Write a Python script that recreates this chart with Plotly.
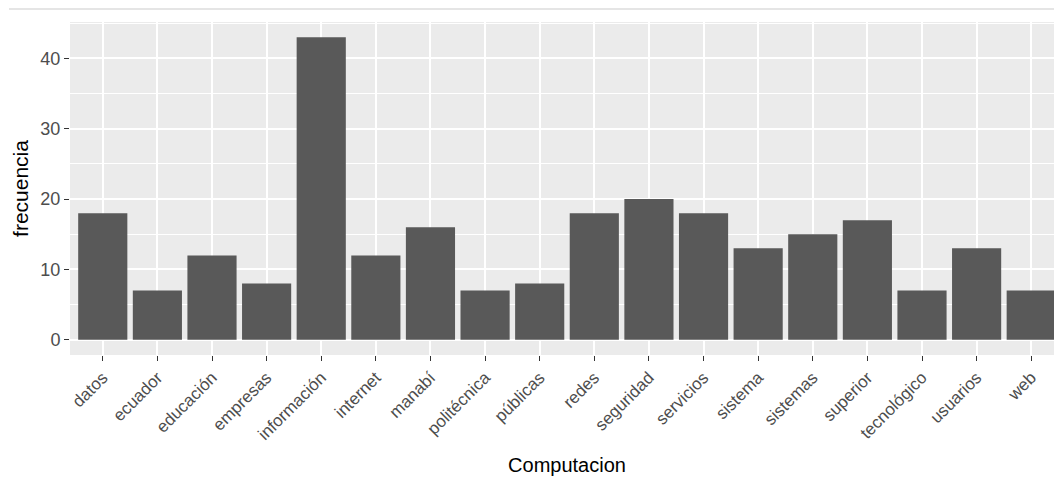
import plotly.graph_objects as go

categorias = ["datos", "ecuador", "educación", "empresas", "información", "internet",
              "manabí", "politécnica", "públicas", "redes", "seguridad", "servicios",
              "sistema", "sistemas", "superior", "tecnológico", "usuarios", "web"]
frecuencia = [18, 7, 12, 8, 43, 12, 16, 7, 8, 18, 20, 18, 13, 15, 17, 7, 13, 7]
y_ticks = [0, 10, 20, 30, 40]

fig = go.Figure(go.Bar(
    x=categorias, y=frecuencia,
    marker=dict(color="#595959", line=dict(width=0)),
    width=0.9,
))

L, R, T, B = 62, 4, 14, 121
W, H = 1060, 468
pw, ph = W - L - R, H - T - B

ymax = max(frecuencia) * 1.05
fig.update_layout(
    width=W, height=H,
    margin=dict(l=L, r=R, t=T, b=B, autoexpand=False),
    paper_bgcolor="white",
    plot_bgcolor="#EBEBEB",
    font=dict(family="Liberation Sans, Arial, sans-serif", size=17, color="#4D4D4D"),
    showlegend=False,
    xaxis=dict(
        title=dict(text="Computacion", font=dict(size=20, color="black"), standoff=15),
        range=[-0.6, len(categorias) - 0.4],
        tickangle=-45,
        ticks="outside", ticklen=5, tickwidth=1, tickcolor="#333333",
        showgrid=True, gridcolor="white", gridwidth=1.6,
        showline=False, zeroline=False,
        tickfont=dict(size=17, color="#4D4D4D"),
    ),
    yaxis=dict(
        title=dict(text="frecuencia", font=dict(size=21, color="black"), standoff=6),
        range=[-0.05 * max(frecuencia), ymax],
        tickvals=y_ticks,
        ticks="outside", ticklen=5, tickwidth=1, tickcolor="#333333",
        showgrid=True, gridcolor="white", gridwidth=1.6,
        minor=dict(dtick=5, showgrid=True, gridcolor="white", gridwidth=0.8, ticks=""),
        showline=False, zeroline=False,
        tickfont=dict(size=18, color="#4D4D4D"),
    ),
)

fig.add_shape(type="line", xref="paper", yref="paper",
              x0=(1 - L) / pw, x1=(W - L) / pw,
              y0=1 + (T - 1) / ph, y1=1 + (T - 1) / ph,
              line=dict(color="#DCDCDC", width=1.5))

fig.write_html("out.html")
